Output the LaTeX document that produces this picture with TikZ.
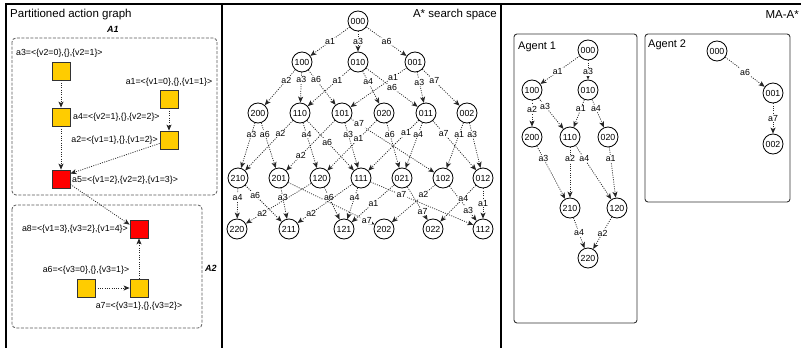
\documentclass[tikz,border=0pt]{standalone}
\usepackage{fontspec}
\setmainfont{Liberation Sans}
\usetikzlibrary{arrows.meta}
\definecolor{yelc}{HTML}{FFCC00}
\definecolor{redc}{HTML}{FF0000}
\tikzset{
  st/.style={circle, draw=black, line width=0.8pt, fill=white, minimum size=20pt, inner sep=0pt, font=\fontsize{8.8}{9}\selectfont},
  act/.style={rectangle, draw=black!80, line width=0.8pt, minimum size=18pt, inner sep=0pt},
  yel/.style={act, fill=yelc},
  redbox/.style={act, fill=redc},
  edge/.style={draw=black!85, line width=0.75pt, dash pattern=on 1pt off 1.3pt, -{Stealth[length=6pt,width=5pt,inset=1.5pt]}},
  lbl/.style={fill=white, inner sep=0.6pt, font=\fontsize{8.8}{9}\selectfont},
  txt/.style={inner sep=0pt, font=\fontsize{8.8}{10}\selectfont},
  ttl/.style={inner sep=0pt, font=\fontsize{11.5}{13}\selectfont},
  grp/.style={draw=black!65, dash pattern=on 3pt off 1.5pt, line width=0.8pt, rounded corners=4pt},
  agentbox/.style={draw=black!80, line width=0.9pt, rounded corners=3pt},
  frm/.style={draw=black, line width=1.2pt},
}
\begin{document}
\begin{tikzpicture}[x=1pt,y=-1pt]
\useasboundingbox (0,0) rectangle (801,348);
% frame
\draw[frm] (6,348) -- (6,4) -- (801,4);
\draw[frm] (222,4) -- (222,348);
\draw[frm] (501,4) -- (501,348);

% ---------- left panel ----------
\node[ttl, anchor=west] (tleft) at (10,15) {Partitioned action graph};
\draw[grp] (12,38) rectangle (217,195);
\draw[grp] (12,205) rectangle (202,328);
\node[txt, font=\fontsize{9}{10}\selectfont\bfseries\itshape] (gA1) at (113,29) {A1};
\node[txt, font=\fontsize{9}{10}\selectfont\bfseries\itshape] (gA2) at (211,268) {A2};

\node[yel] (a3) at (61,71) {};
\node[yel] (a4) at (61,117) {};
\node[redbox] (a5) at (61,179) {};
\node[yel] (a1) at (169,99) {};
\node[yel] (a2) at (169,140) {};
\node[redbox] (a8) at (139,229) {};
\node[yel] (a6) at (86,288) {};
\node[yel] (a7) at (139,288) {};

\node[txt, anchor=west] (la3) at (16,53) {a3=<\{v2=0\},\{\},\{v2=1\}>};
\node[txt] (la1) at (169,82) {a1=<\{v1=0\},\{\},\{v1=1\}>};
\node[txt, anchor=west] (la4) at (73,117) {a4=<\{v2=1\},\{\},\{v2=2\}>};
\node[txt, anchor=east] (la2) at (158,140) {a2=<\{v1=1\},\{\},\{v1=2\}>};
\node[txt, anchor=west] (la5) at (72,180) {a5=<\{v1=2\},\{v2=2\},\{v1=3\}>};
\node[txt, anchor=east] (la8) at (128,229) {a8=<\{v1=3\},\{v3=2\},\{v1=4\}>};
\node[txt] (la6) at (86,270) {a6=<\{v3=0\},\{\},\{v3=1\}>};
\node[txt] (la7) at (139,306) {a7=<\{v3=1\},\{\},\{v3=2\}>};

\draw[edge] (a3) -- (a4);
\draw[edge] (a4) -- (a5);
\draw[edge] (a1) -- (a2);
\draw[edge] (a2.200) -- (a5.30);
\draw[edge] (a5.-30) -- (a8.155);
\draw[edge] (a6) -- (a7);
\draw[edge] (a7) -- (a8);

% ---------- middle panel ----------
\node[ttl, anchor=east] (tmid) at (497,15) {A* search space};
\node[st] (s000) at (358,21) {000};
\node[st] (s100) at (302,62) {100};
\node[st] (s010) at (358,62) {010};
\node[st] (s001) at (415,62) {001};
\node[st] (s200) at (258,113) {200};
\node[st] (s110) at (300,113) {110};
\node[st] (s101) at (342,113) {101};
\node[st] (s020) at (384,113) {020};
\node[st] (s011) at (426,113) {011};
\node[st] (s002) at (467,113) {002};
\node[st] (s210) at (238,178) {210};
\node[st] (s201) at (279,178) {201};
\node[st] (s120) at (320,178) {120};
\node[st] (s111) at (361,178) {111};
\node[st] (s021) at (402,178) {021};
\node[st] (s102) at (443,178) {102};
\node[st] (s012) at (483,178) {012};
\node[st] (s220) at (237,229) {220};
\node[st] (s211) at (289,229) {211};
\node[st] (s121) at (344,229) {121};
\node[st] (s202) at (384,229) {202};
\node[st] (s022) at (433,229) {022};
\node[st] (s112) at (483,229) {112};

\draw[edge] (s000) -- node[lbl,pos=.5]{a1} (s100);
\draw[edge] (s000) -- node[lbl,pos=.5]{a3} (s010);
\draw[edge] (s000) -- node[lbl,pos=.5]{a6} (s001);

\draw[edge] (s100) -- node[lbl,pos=.29]{a2} (s200);
\draw[edge] (s100) -- node[lbl,pos=.25]{a3} (s110);
\draw[edge] (s100) -- node[lbl,pos=.28]{a6} (s101);
\draw[edge] (s010) -- node[lbl,pos=.30]{a1} (s110);
\draw[edge] (s010) -- node[lbl,pos=.33]{a4} (s020);
\draw[edge] (s010) -- node[lbl,pos=.5]{a6} (s011);
\draw[edge] (s001) -- node[lbl,pos=.24]{a1} (s101);
\draw[edge] (s001) -- node[lbl,pos=.32]{a3} (s011);
\draw[edge] (s001) -- node[lbl,pos=.32]{a7} (s002);

\draw[edge] (s200) -- node[lbl,pos=.25]{a3} (s210);
\draw[edge] (s200) -- node[lbl,pos=.25]{a6} (s201);
\draw[edge] (s110) -- node[lbl,pos=.26]{a2} (s210);
\draw[edge] (s110) -- node[lbl,pos=.25]{a4} (s120);
\draw[edge] (s110) -- node[lbl,pos=.43]{a6} (s111);
\draw[edge] (s101) -- node[lbl,pos=.70]{a2} (s201);
\draw[edge] (s101) -- node[lbl,pos=.25]{a3} (s111);
\draw[edge] (s101) -- node[lbl,pos=.10]{a7} (s102);
\draw[edge] (s020) -- node[lbl,pos=.37]{a1} (s120);
\draw[edge] (s020) -- node[lbl,pos=.25]{a6} (s021);
\draw[edge] (s011) -- node[lbl,pos=.25]{a1} (s111);
\draw[edge] (s011) -- node[lbl,pos=.25]{a4} (s021);
\draw[edge] (s011) -- node[lbl,pos=.25]{a7} (s012);
\draw[edge] (s002) -- node[lbl,pos=.25]{a1} (s102);
\draw[edge] (s002) -- node[lbl,pos=.25]{a3} (s012);

\draw[edge] (s210) -- node[lbl,pos=.29]{a4} (s220);
\draw[edge] (s210) -- node[lbl,pos=.27]{a6} (s211);
\draw[edge] (s201) -- node[lbl,pos=.30]{a3} (s211);
\draw[edge] (s201) -- node[lbl,pos=.91]{a7} (s202);
\draw[edge] (s120) -- node[lbl,pos=.75]{a2} (s220);
\draw[edge] (s120) -- node[lbl,pos=.30]{a6} (s121);
\draw[edge] (s111) -- node[lbl,pos=.75]{a2} (s211);
\draw[edge] (s111) -- node[lbl,pos=.30]{a4} (s121);
\draw[edge] (s111) -- node[lbl,pos=.30]{a7} (s112);
\draw[edge] (s021) -- node[lbl,pos=.49]{a1} (s121);
\draw[edge] (s021) -- node[lbl,pos=.75]{a7} (s022);
\draw[edge] (s102) -- node[lbl,pos=.27]{a2} (s202);
\draw[edge] (s102) -- node[lbl,pos=.69]{a3} (s112);
\draw[edge] (s012) -- node[lbl,pos=.35]{a4} (s022);
\draw[edge] (s012) -- node[lbl,pos=.5]{a1} (s112);

% ---------- right panel ----------
\node[ttl, anchor=east] (tright) at (799,15) {MA-A*};
\draw[agentbox] (514,34) rectangle (637,323);
\draw[agentbox] (645,34) rectangle (790,202);
\node[ttl, anchor=west, font=\fontsize{11}{12}\selectfont] (ag1) at (518,47) {Agent 1};
\node[ttl, anchor=west, font=\fontsize{11}{12}\selectfont] (ag2) at (648,45) {Agent 2};

\node[st] (p000) at (588,50) {000};
\node[st] (p100) at (532,90) {100};
\node[st] (p010) at (588,90) {010};
\node[st] (p200) at (532,137) {200};
\node[st] (p110) at (570,137) {110};
\node[st] (p020) at (608,137) {020};
\node[st] (p210) at (570,208) {210};
\node[st] (p120) at (617,208) {120};
\node[st] (p220) at (588,258) {220};

\draw[edge] (p000) -- node[lbl,pos=.56]{a1} (p100);
\draw[edge] (p000) -- node[lbl,pos=.6]{a3} (p010);
\draw[edge] (p100) -- node[lbl,pos=.33]{a2} (p200);
\draw[edge] (p100) -- node[lbl,pos=.26]{a3} (p110);
\draw[edge] (p010) -- node[lbl,pos=.33]{a1} (p110);
\draw[edge] (p010) -- node[lbl,pos=.33]{a4} (p020);
\draw[edge] (p200) -- node[lbl,pos=.23]{a3} (p210);
\draw[edge] (p110) -- node[lbl,pos=.22]{a2} (p210);
\draw[edge] (p110) -- node[lbl,pos=.24]{a4} (p120);
\draw[edge] (p020) -- node[lbl,pos=.22]{a1} (p120);
\draw[edge] (p210) -- node[lbl,pos=.5]{a4} (p220);
\draw[edge] (p120) -- node[lbl,pos=.5]{a2} (p220);

\node[st] (q000) at (717,51) {000};
\node[st] (q001) at (773,93) {001};
\node[st] (q002) at (773,144) {002};
\draw[edge] (q000) -- node[lbl,pos=.5]{a6} (q001);
\draw[edge] (q001) -- node[lbl,pos=.5]{a7} (q002);
\end{tikzpicture}
\end{document}
